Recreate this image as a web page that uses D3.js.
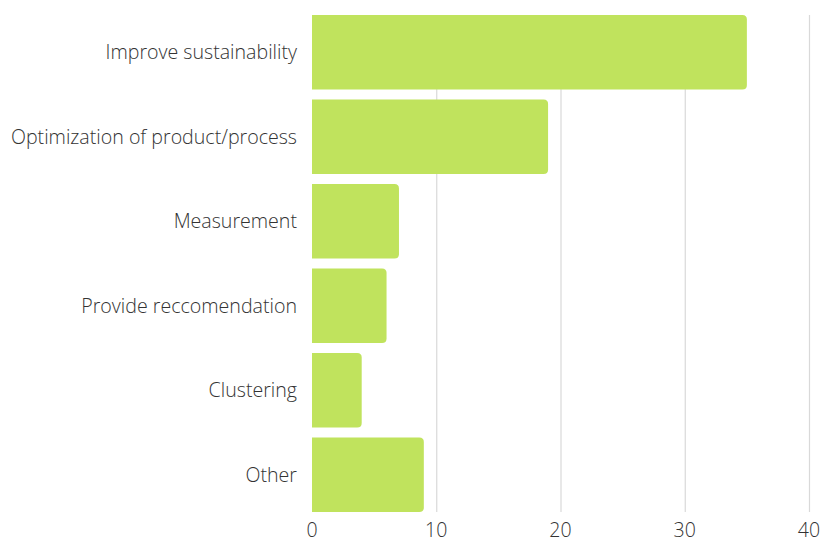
<!DOCTYPE html>
<html><head><meta charset="utf-8">
<script src="https://cdn.jsdelivr.net/npm/d3@7"></script>
<style>body{margin:0;background:#fff}svg{display:block}</style>
</head><body><svg id="c" width="822" height="542"></svg>
<script>
const categories = ["Improve sustainability","Optimization of product/process","Measurement","Provide reccomendation","Clustering","Other"];
const values = [35,19,7,6,4,9];
const tickValues = [0,10,20,30,40];

const svg = d3.select("#c");
const x = d3.scaleLinear().domain([0,40]).range([312,809]);
const y = d3.scaleBand().domain(categories).range([15,512]).paddingInner(0.118).paddingOuter(0);
const font = "'Open Sans', sans-serif";

// grid
svg.append("g").selectAll("line").data(tickValues.filter(d=>d>0)).join("line")
  .attr("x1",d=>x(d)+0.5).attr("x2",d=>x(d)+0.5).attr("y1",15).attr("y2",512)
  .attr("stroke","#d9d9d9").attr("stroke-width",1.2);

// bars with rounded right corners
const r = 4.5;
svg.append("g").selectAll("path").data(categories).join("path")
  .attr("fill","#c0e35d")
  .attr("d",(c,i)=>{
    const x0=x(0), x1=x(values[i]), y0=y(c), y1=y(c)+y.bandwidth();
    return `M${x0},${y0}H${x1-r}Q${x1},${y0} ${x1},${y0+r}V${y1-r}Q${x1},${y1} ${x1-r},${y1}H${x0}Z`;
  });

// category labels
svg.append("g").selectAll("text").data(categories).join("text")
  .attr("x",297).attr("y",c=>y(c)+y.bandwidth()/2).attr("dy","0.35em")
  .attr("text-anchor","end").attr("font-family",font).attr("font-weight",300)
  .attr("font-size",19.6).attr("fill","#333").text(c=>c);

// x tick labels
svg.append("g").selectAll("text").data(tickValues).join("text")
  .attr("x",d=>x(d)).attr("y",536.5).attr("text-anchor","middle")
  .attr("font-family",font).attr("font-weight",300).attr("font-size",19.5).attr("fill","#333")
  .text(d=>d);
</script></body></html>
